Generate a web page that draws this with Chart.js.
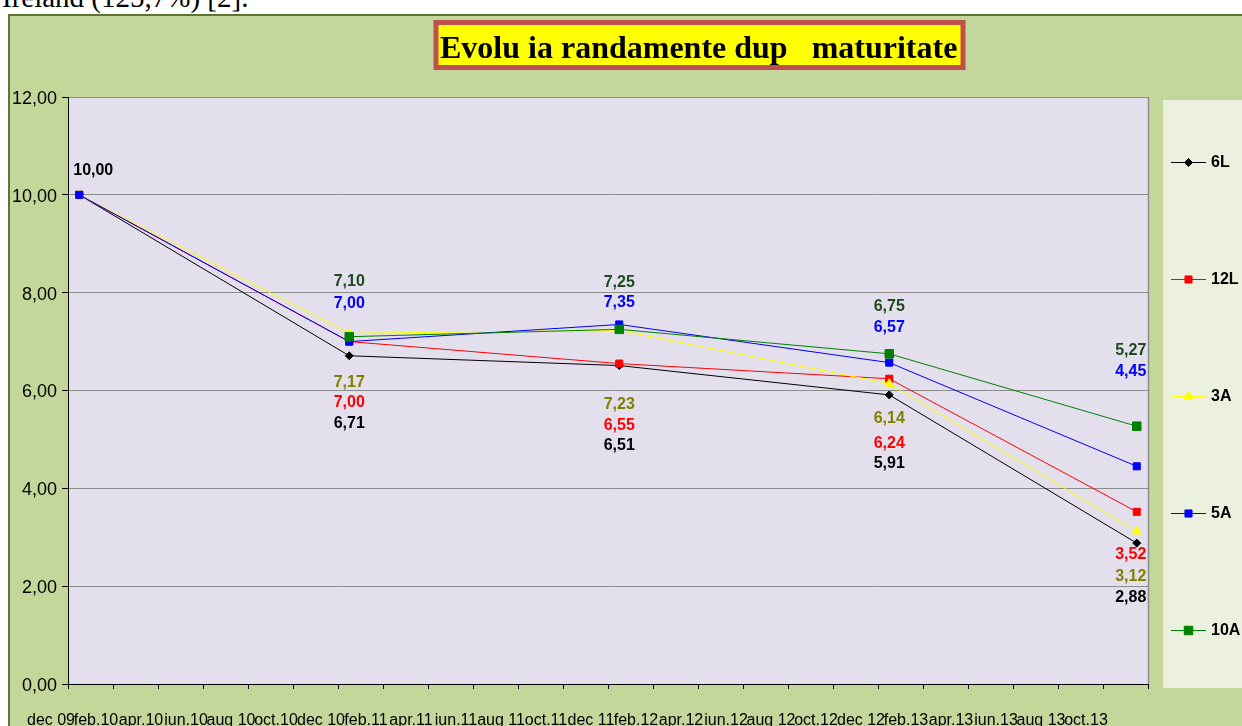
<!DOCTYPE html>
<html>
<head>
<meta charset="utf-8">
<script src="https://cdn.jsdelivr.net/npm/chart.js@4.4.1/dist/chart.umd.min.js"></script>
<style>
  body { margin: 0; background: #fff; width: 1242px; height: 726px; overflow: hidden; position: relative; }
  #doc-text { position: absolute; left: 2px; top: -17px; font: 29px "Liberation Serif", "Times New Roman", serif; line-height: 29px; color: #000; white-space: nowrap; }
  #chart { position: absolute; left: 0; top: 0; }
</style>
</head>
<body>
<div id="doc-text">Ireland (125,7%) [2].</div>
<canvas id="chart" width="1242" height="726"></canvas>
<script>
// axa x: etichete la fiecare 2 luni, dec 09 - oct.13
const monthLabels = ['dec 09', 'feb.10', 'apr.10', 'iun.10', 'aug 10', 'oct.10', 'dec 10', 'feb.11',
    'apr.11', 'iun.11', 'aug 11', 'oct.11', 'dec 11', 'feb.12', 'apr.12', 'iun.12', 'aug 12', 'oct.12',
    'dec 12', 'feb.13', 'apr.13', 'iun.13', 'aug 13', 'oct.13'];

// datele observatiilor (an-luna)
const pointDates = ['2009-12', '2010-12', '2011-12', '2012-12', '2013-11'];

const seriesNames = ['6L', '12L', '3A', '5A', '10A'];
const values6L  = [10.00, 6.71, 6.51, 5.91, 2.88];
const values12L = [10.00, 7.00, 6.55, 6.24, 3.52];
const values3A  = [10.00, 7.17, 7.23, 6.14, 3.12];
const values5A  = [10.00, 7.00, 7.35, 6.57, 4.45];
const values10A = [null, 7.10, 7.25, 6.75, 5.27];

const yTicks = [0, 2, 4, 6, 8, 10, 12];

// stil serii
const lineColors  = ['#000000', '#FF0000', '#FFFF00', '#0000FF', '#008000'];
const labelColors = ['#000000', '#FF0000', '#808000', '#0000FF', '#1E4A1E'];
const markers     = ['rectRot', 'rect', 'triangle', 'rect', 'rect'];
const markerSizes = [4, 5, 5, 5, 6];

// pozitia etichetelor fata de punct (px), null = fara eticheta
const labelShift = [
    [[14, -24], [0, 68], [0, 80], [0, 69], [-6, 54]],
    [null, [0, 61], [0, 62], [0, 65], [-6, 43]],
    [null, [0, 49], [0, 74], [0, 35], [-6, 45]],
    [null, [0, -38], [0, -22], [0, -35], [-6, -95]],
    [null, [0, -55], [0, -47], [0, -47], [-6, -76]]
];

const allValues = [values6L, values12L, values3A, values5A, values10A];

function monthIndex(d) {
    const [y, m] = d.split('-').map(Number);
    return (y - 2009) * 12 + (m - 12);
}

function fmt(v) {
    return v.toFixed(2).replace('.', ',');
}

const datasets = allValues.map((vals, i) => ({
    label: seriesNames[i],
    // punctul sta la mijlocul lunii
    data: vals.map((v, j) => ({ x: monthIndex(pointDates[j]) + 0.5, y: v })),
    borderColor: lineColors[i],
    backgroundColor: lineColors[i],
    borderWidth: 1,
    pointStyle: markers[i],
    pointRadius: markerSizes[i],
    pointBorderWidth: 1,
    pointBorderColor: lineColors[i],
    pointBackgroundColor: lineColors[i],
    tension: 0,
    order: allValues.length - i   // ultima serie deasupra
}));

const FONT = '"Liberation Sans", Arial, sans-serif';

const backgroundPlugin = {
    id: 'bg',
    beforeDraw(chart) {
        const ctx = chart.ctx;
        const a = chart.chartArea;
        ctx.save();
        // panoul verde
        ctx.fillStyle = '#C4D79B';
        ctx.fillRect(8, 14, 1242, 720);
        ctx.strokeStyle = '#5C7530';
        ctx.lineWidth = 2;
        ctx.beginPath();
        ctx.moveTo(9, 740); ctx.lineTo(9, 15); ctx.lineTo(1250, 15);
        ctx.stroke();
        // zona graficului
        ctx.fillStyle = '#E4DFEC';
        ctx.fillRect(a.left, a.top, a.right - a.left, a.bottom - a.top);
        ctx.strokeStyle = '#8C8C8C';
        ctx.lineWidth = 1.5;
        ctx.beginPath();
        ctx.moveTo(a.right + 0.5, a.top); ctx.lineTo(a.right + 0.5, a.bottom);
        ctx.stroke();
        // titlu
        ctx.fillStyle = '#FFFF00';
        ctx.fillRect(436, 23, 527, 44);
        ctx.strokeStyle = '#C0504D';
        ctx.lineWidth = 5;
        ctx.strokeRect(436, 22.5, 527, 45);
        ctx.fillStyle = '#000';
        ctx.font = 'bold 32px "Liberation Serif", "Times New Roman", serif';
        ctx.textAlign = 'left';
        ctx.textBaseline = 'alphabetic';
        ctx.fillText('Evolu ia randamente dup   maturitate', 440, 58);
        ctx.restore();
    }
};

const labelsPlugin = {
    id: 'valueLabels',
    afterDatasetsDraw(chart) {
        const ctx = chart.ctx;
        ctx.save();
        ctx.font = 'bold 16px ' + FONT;
        ctx.textAlign = 'center';
        ctx.textBaseline = 'middle';
        chart.data.datasets.forEach((ds, i) => {
            const meta = chart.getDatasetMeta(i);
            meta.data.forEach((pt, j) => {
                const sh = labelShift[i][j];
                const v = allValues[i][j];
                if (!sh || v === null) return;
                ctx.fillStyle = labelColors[i];
                ctx.fillText(fmt(v), pt.x + sh[0], pt.y + sh[1]);
            });
        });
        ctx.restore();
    }
};

const legendPlugin = {
    id: 'sideLegend',
    afterDraw(chart) {
        const ctx = chart.ctx;
        ctx.save();
        ctx.fillStyle = '#EBF1DE';
        ctx.fillRect(1163, 100, 90, 588);
        ctx.font = 'bold 16px ' + FONT;
        ctx.textAlign = 'left';
        ctx.textBaseline = 'middle';
        seriesNames.forEach((name, i) => {
            const y = 162 + i * 117;
            ctx.strokeStyle = lineColors[i];
            ctx.lineWidth = 1;
            ctx.beginPath();
            ctx.moveTo(1171, y + 0.5); ctx.lineTo(1206, y + 0.5);
            ctx.stroke();
            ctx.fillStyle = lineColors[i];
            ctx.strokeStyle = lineColors[i];
            Chart.helpers.drawPoint(ctx, {
                pointStyle: markers[i], radius: markerSizes[i], borderWidth: 1, rotation: 0
            }, 1188.5, y + 0.5);
            ctx.fillStyle = '#000';
            ctx.fillText(name, 1211, y + 1);
        });
        ctx.restore();
    }
};

new Chart(document.getElementById('chart'), {
    type: 'line',
    data: { datasets: datasets },
    options: {
        responsive: false,
        devicePixelRatio: 1,
        animation: false,
        layout: { padding: { left: 0, top: 97, right: 94, bottom: 0 } },
        plugins: {
            legend: { display: false },
            title: { display: false },
            tooltip: { enabled: false }
        },
        scales: {
            x: {
                type: 'linear',
                min: 0,
                max: monthLabels.length * 2,
                afterFit: s => { s.height = 42; },
                ticks: {
                    stepSize: 2,
                    autoSkip: false,
                    maxRotation: 0,
                    padding: 22,
                    labelOffset: -17,
                    color: '#000',
                    font: { family: FONT, size: 16 },
                    callback: (v, i) => monthLabels[i] || ''
                },
                grid: { drawOnChartArea: false, drawTicks: true, tickLength: 5, tickColor: '#000' },
                border: { color: '#000', width: 1 }
            },
            y: {
                min: yTicks[0],
                max: yTicks[yTicks.length - 1],
                afterFit: s => { s.width = 68; },
                afterBuildTicks: s => { s.ticks = yTicks.map(v => ({ value: v })); },
                ticks: {
                    padding: 5,
                    color: '#000',
                    labelOffset: 2,
                    font: { family: FONT, size: 18 },
                    callback: v => fmt(v)
                },
                grid: { color: '#8C8C8C', lineWidth: 1, tickLength: 6, tickColor: '#000' },
                border: { color: '#000', width: 1 }
            }
        }
    },
    plugins: [backgroundPlugin, labelsPlugin, legendPlugin]
});
</script>
</body>
</html>
